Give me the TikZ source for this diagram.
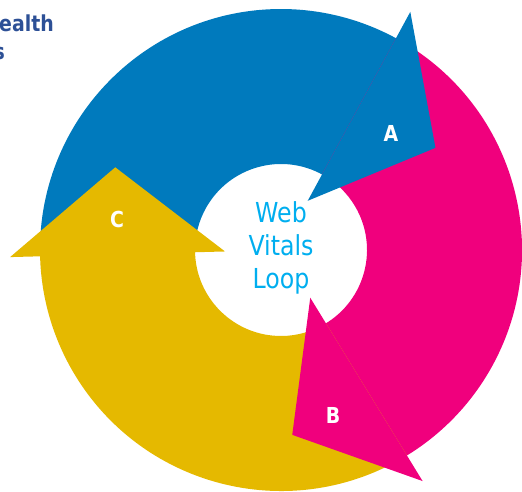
\documentclass[tikz,border=0pt]{standalone}
\usepackage{fontspec}
\setmainfont{DejaVu Sans}[FakeStretch=0.86]
\usetikzlibrary{calc}

\definecolor{loopblue}{RGB}{0,122,189}
\definecolor{loopmagenta}{RGB}{240,0,125}
\definecolor{loopyellow}{RGB}{229,185,0}
\definecolor{loopcyan}{RGB}{0,174,239}
\definecolor{titleblue}{RGB}{45,80,150}

% ring geometry (pt)
\def\Rout{241pt}
\def\Rin{86pt}
\def\Rmid{163.5pt}
\def\Rbarbout{271pt}
\def\Rbarbin{56pt}
\def\Hlen{87pt}

% curved body of one segment: colour, start angle, end angle
\newcommand{\loopbody}[3]{%
  \fill[#1] ($(c)+(#2:\Rout)$) arc[start angle=#2, end angle=#3, radius=\Rout]
    -- ($(c)+(#3:\Rin)$) arc[start angle=#3, end angle=#2, radius=\Rin] -- cycle;}
% triangular head whose base lies on the radius at the given angle
\newcommand{\loophead}[2]{%
  \fill[#1] ($(c)+(#2:\Rbarbout)$)
    -- ($(c)+(#2:\Rmid)+({#2-90}:\Hlen)$)
    -- ($(c)+(#2:\Rbarbin)$) -- cycle;}

\tikzset{
  steplabel/.style={text=white, inner sep=0pt, font=\bfseries\fontsize{22}{26}\selectfont},
  titletext/.style={text=titleblue, inner sep=0pt, font=\bfseries\fontsize{22}{26}\selectfont},
  centertext/.style={text=loopcyan, inner sep=0pt, align=center, font=\fontsize{27.5}{33}\selectfont}
}

\begin{document}
\begin{tikzpicture}[x=1pt,y=1pt]
  \useasboundingbox (0,0) rectangle (522,491);
  \clip (0,0) rectangle (522,491);
  \coordinate (c) at (281,241);

  % bodies first, heads on top
  \loopbody{loopblue}{181.5}{60.5}
  \loopbody{loopmagenta}{61.5}{-59.5}
  \loopbody{loopyellow}{-58.5}{-179.5}
  \loophead{loopblue}{61.5}
  \loophead{loopmagenta}{-58.5}
  \loophead{loopyellow}{181.5}

  % labels
  \node[steplabel] (la) at (391,358) {A};
  \node[steplabel] (lb) at (333,76) {B};
  \node[steplabel] (lc) at (117,272) {C};

  \node[centertext] (centre) at (281,243) {Web\\Vitals\\Loop};

  \node[titletext, anchor=base west] (t1) at (-1,459) {ealth};
  \node[titletext, anchor=base east] (t2) at (5,431) {s};
\end{tikzpicture}
\end{document}
